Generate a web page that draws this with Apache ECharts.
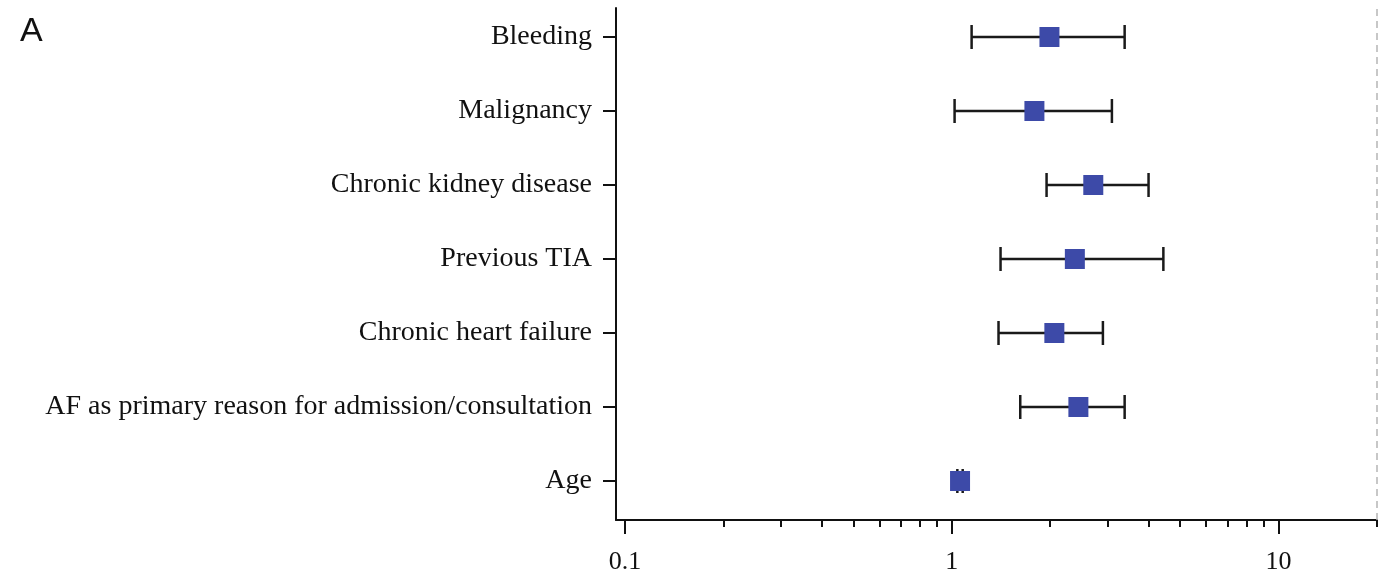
<!DOCTYPE html>
<html>
<head>
<meta charset="utf-8">
<script src="https://cdn.jsdelivr.net/npm/echarts@6/dist/echarts.min.js"></script>
<style>
  html, body { margin: 0; padding: 0; background: #fff; }
  #chart { width: 1383px; height: 578px; }
</style>
</head>
<body>
<div id="chart"></div>
<script>
// categories bottom to top (index 0 = Age)
var categories = [
  'Age',
  'AF as primary reason for admission/consultation',
  'Chronic heart failure',
  'Previous TIA',
  'Chronic kidney disease',
  'Malignancy',
  'Bleeding'
];
var oddsRatio = [1.06, 2.44, 2.06, 2.38, 2.71, 1.79, 1.99];
var ciLower   = [1.04, 1.62, 1.39, 1.41, 1.95, 1.02, 1.15];
var ciUpper   = [1.08, 3.38, 2.90, 4.44, 4.00, 3.09, 3.38];

var majorTicks = [0.1, 1, 10];
var minorTicks = [0.2, 0.3, 0.4, 0.5, 0.6, 0.7, 0.8, 0.9, 2, 3, 4, 5, 6, 7, 8, 9, 20];
var refLine = 20;

var rowIdx = categories.map(function (c, i) { return i; });

var chart = echarts.init(document.getElementById('chart'));

var serif = '"Liberation Serif", "DejaVu Serif", serif';

var option = {
  backgroundColor: '#fff',
  animation: false,
  title: {
    text: 'A',
    left: 15,
    top: 10,
    textStyle: { fontFamily: '"Liberation Sans", Arial, sans-serif', fontSize: 34, fontWeight: 'normal', color: '#111' }
  },
  grid: { left: 616, right: 6, top: 8, bottom: 58, outerBoundsMode: 'none' },
  xAxis: [{
    type: 'log',
    min: 0.0939,
    max: 20,
    position: 'bottom',
    axisLine: { show: true, onZero: false, lineStyle: { color: '#111', width: 2 } },
    axisTick: { show: true, customValues: majorTicks, length: 14, lineStyle: { color: '#111', width: 2 } },
    axisLabel: {
      customValues: majorTicks, margin: 29,
      fontFamily: serif, fontSize: 26, color: '#111',
      formatter: function (v) { return String(+v.toPrecision(3)); }
    },
    splitLine: { show: false }
  }, {
    type: 'log',
    min: 0.0939,
    max: 20,
    position: 'bottom',
    axisLine: { show: false, onZero: false },
    axisTick: { show: true, customValues: minorTicks, length: 7, lineStyle: { color: '#111', width: 2 } },
    axisLabel: { show: false },
    splitLine: { show: false }
  }],
  yAxis: {
    type: 'value',
    min: -0.527,
    max: 6.392,
    axisLine: { show: true, onZero: false, lineStyle: { color: '#111', width: 2 } },
    axisTick: { show: true, customValues: rowIdx, length: 13, lineStyle: { color: '#111', width: 2 } },
    axisLabel: {
      customValues: rowIdx, margin: 24,
      fontFamily: serif, fontSize: 28, color: '#111',
      formatter: function (v) { return categories[Math.round(v)]; }
    },
    splitLine: { show: false }
  },
  series: [{
    type: 'custom',
    name: 'CI',
    z: 2,
    data: rowIdx.map(function (i) { return [ciLower[i], ciUpper[i], i]; }),
    renderItem: function (params, api) {
      var p1 = api.coord([api.value(0), api.value(2)]);
      var p2 = api.coord([api.value(1), api.value(2)]);
      var cap = 12;
      var style = { stroke: '#1a1a1a', lineWidth: 2.5 };
      return {
        type: 'group',
        children: [
          { type: 'line', shape: { x1: p1[0], y1: p1[1], x2: p2[0], y2: p2[1] }, style: style },
          { type: 'line', shape: { x1: p1[0], y1: p1[1] - cap, x2: p1[0], y2: p1[1] + cap }, style: style },
          { type: 'line', shape: { x1: p2[0], y1: p2[1] - cap, x2: p2[0], y2: p2[1] + cap }, style: style }
        ]
      };
    }
  }, {
    type: 'scatter',
    name: 'OR',
    z: 3,
    symbol: 'rect',
    symbolSize: 20,
    itemStyle: { color: '#3d4aa8', opacity: 1 },
    data: rowIdx.map(function (i) { return [oddsRatio[i], i]; }),
    markLine: {
      silent: true,
      symbol: 'none',
      label: { show: false },
      lineStyle: { color: '#b5b5b5', type: [7, 5], width: 1.5 },
      data: [{ xAxis: refLine }]
    }
  }]
};

chart.setOption(option);
</script>
</body>
</html>
